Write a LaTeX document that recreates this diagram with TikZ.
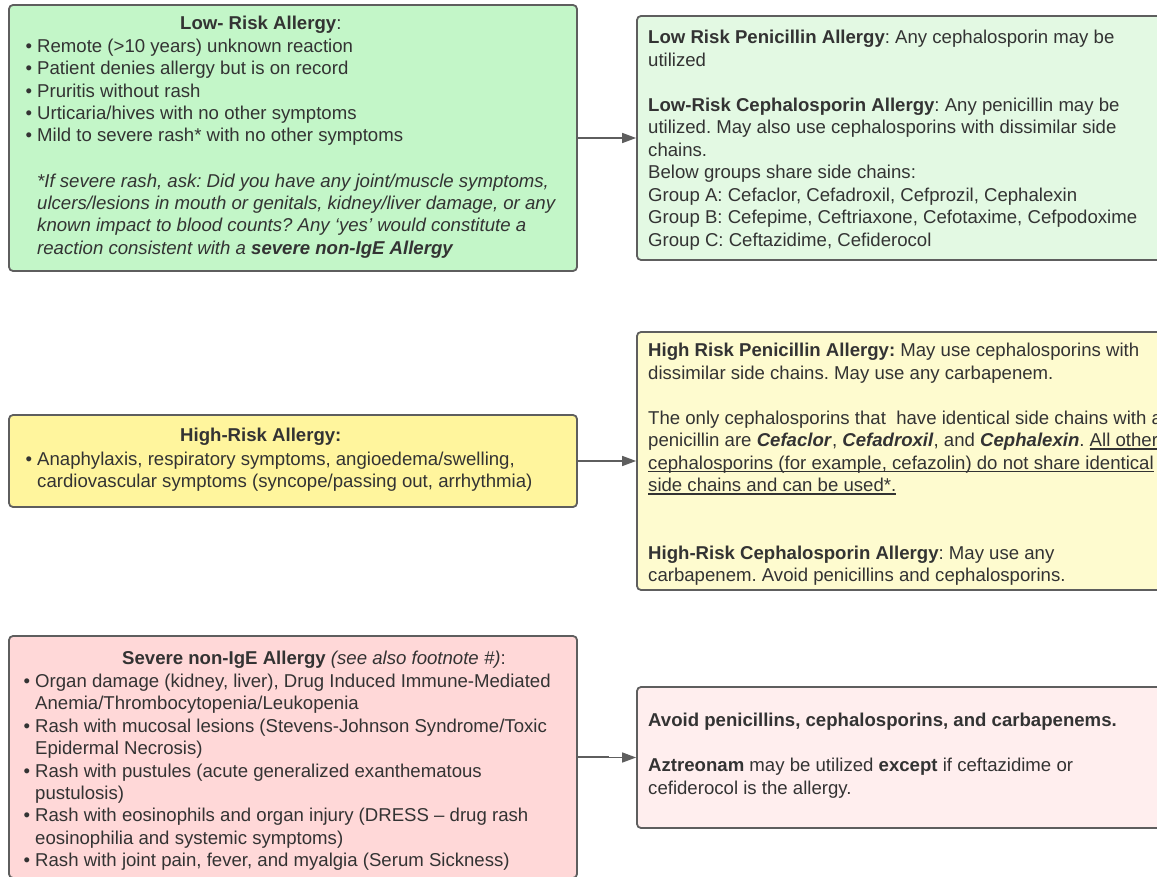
\documentclass[tikz,border=0pt]{standalone}
\usepackage{fontspec}
\setmainfont{Liberation Sans}
\usetikzlibrary{arrows.meta}
\definecolor{textc}{HTML}{333333}
\definecolor{linec}{HTML}{5E5E5E}
\definecolor{gA}{HTML}{C3F6C8}
\definecolor{gB}{HTML}{E3F9E3}
\definecolor{yA}{HTML}{FFF59D}
\definecolor{yB}{HTML}{FEFBCF}
\definecolor{rA}{HTML}{FFD8D8}
\definecolor{rB}{HTML}{FFEEEE}
\frenchspacing
\newcommand\undl[1]{\setbox0\hbox{#1}\rlap{\color{textc}\rule[-3pt]{\wd0}{1.1pt}}\box0}
\newcommand\txtline[4]{\node[txt] (#1) at (#2,#3) {#4};}
\begin{document}
\begin{tikzpicture}[x=1pt,y=-1pt,
  box/.style={draw=linec, line width=1.8pt, rounded corners=4pt, inner sep=0pt},
  txt/.style={inner sep=0pt, anchor=base west, text=textc,
    font=\fontsize{18.6}{22.4}\selectfont\frenchspacing},
  conn/.style={draw=linec, line width=1.5pt, -{Triangle[length=14pt,width=10pt]}}]
\useasboundingbox (0,0) rectangle (1157,877);
\clip (0,0) rectangle (1157,877);
\fill[white] (0,0) rectangle (1157,877);
% boxes
\node[box, fill=gA, minimum width=568pt, minimum height=266pt] (b1) at (293,138) {};
\node[box, fill=gB, minimum width=533pt, minimum height=244pt] (b2) at (903.5,138) {};
\node[box, fill=yA, minimum width=568pt, minimum height=92pt] (b3) at (293,461) {};
\node[box, fill=yB, minimum width=533pt, minimum height=258pt] (b4) at (903.5,461) {};
\node[box, fill=rA, minimum width=568pt, minimum height=242pt] (b5) at (293,757) {};
\node[box, fill=rB, minimum width=533pt, minimum height=141pt] (b6) at (903.5,757.5) {};
% connectors
\draw[conn] (b1.east) -- (b2.west);
\draw[conn] (b3.east) -- (b4.west);
\draw[conn] (b5.east) -- ++(30,0) |- (b6.west);
% box 1
\txtline{a0}{180}{30}{\textbf{Low- Risk Allergy}:}
\txtline{a1}{37}{52.5}{\llap{•\ }Remote (>10 years) unknown reaction}
\txtline{a2}{37}{75}{\llap{•\ }Patient denies allergy but is on record}
\txtline{a3}{37}{97.5}{\llap{•\ }Pruritis without rash}
\txtline{a4}{37}{119.5}{\llap{•\ }Urticaria/hives with no other symptoms}
\txtline{a5}{37}{142}{\llap{•\ }Mild to severe rash* with no other symptoms}
\txtline{a6}{37}{187.5}{\textit{*If severe rash, ask: Did you have any joint/muscle symptoms,}}
\txtline{a7}{37}{210}{\textit{ulcers/lesions in mouth or genitals, kidney/liver damage, or any}}
\txtline{a8}{37}{232}{\textit{known impact to blood counts? Any ‘yes’ would constitute a}}
\txtline{a9}{37}{254.5}{\textit{reaction consistent with a \textbf{severe non-IgE Allergy}}}
% box 2
\txtline{c1}{648}{44}{\textbf{Low Risk Penicillin Allergy}: Any cephalosporin may be}
\txtline{c2}{648}{66.5}{utilized}
\txtline{c3}{648}{111.5}{\textbf{Low-Risk Cephalosporin Allergy}: Any penicillin may be}
\txtline{c4}{648}{134}{utilized. May also use cephalosporins with dissimilar side}
\txtline{c5}{648}{156.5}{chains.}
\txtline{c6}{648}{179}{Below groups share side chains:}
\txtline{c7}{648}{201.5}{Group A: Cefaclor, Cefadroxil, Cefprozil, Cephalexin}
\txtline{c8}{648}{224}{Group B: Cefepime, Ceftriaxone, Cefotaxime, Cefpodoxime}
\txtline{c9}{648}{246.5}{Group C: Ceftazidime, Cefiderocol}
% box 3
\txtline{d0}{180}{441.5}{\textbf{High-Risk Allergy:}}
\txtline{d1}{37}{465}{\llap{•\ }Anaphylaxis, respiratory symptoms, angioedema/swelling,}
\txtline{d2}{37}{487.5}{cardiovascular symptoms (syncope/passing out, arrhythmia)}
% box 4
\txtline{e1}{648}{356.5}{\textbf{High Risk Penicillin Allergy:} May use cephalosporins with}
\txtline{e2}{648}{379}{dissimilar side chains. May use any carbapenem.}
\txtline{e3}{648}{424}{The only cephalosporins that\ \ have identical side chains with a}
\txtline{e4}{648}{446.5}{penicillin are \textbf{\textit{Cefaclor}}, \textbf{\textit{Cefadroxil}}, and \textbf{\textit{Cephalexin}}. \undl{All other}}
\txtline{e5}{648}{469}{\undl{cephalosporins (for example, cefazolin) do not share identical}}
\txtline{e6}{648}{491.5}{\undl{side chains and can be used*.}}
\txtline{e7}{648}{559}{\textbf{High-Risk Cephalosporin Allergy}: May use any}
\txtline{e8}{648}{581.5}{carbapenem. Avoid penicillins and cephalosporins.}
% box 5
\txtline{f0}{122}{664}{\textbf{Severe non-IgE Allergy} \textit{(see also footnote \#)}:}
\txtline{f1}{35}{687.5}{\llap{•\ }Organ damage (kidney, liver), Drug Induced Immune-Mediated}
\txtline{f2}{35}{709.5}{Anemia/Thrombocytopenia/Leukopenia}
\txtline{f3}{35}{732}{\llap{•\ }Rash with mucosal lesions (Stevens-Johnson Syndrome/Toxic}
\txtline{f4}{35}{754.5}{Epidermal Necrosis)}
\txtline{f5}{35}{777}{\llap{•\ }Rash with pustules (acute generalized exanthematous}
\txtline{f6}{35}{799}{pustulosis)}
\txtline{f7}{35}{821.5}{\llap{•\ }Rash with eosinophils and organ injury (DRESS – drug rash}
\txtline{f8}{35}{844}{eosinophilia and systemic symptoms)}
\txtline{f9}{35}{866.5}{\llap{•\ }Rash with joint pain, fever, and myalgia (Serum Sickness)}
% box 6
\txtline{h1}{648}{726.5}{\textbf{Avoid penicillins, cephalosporins, and carbapenems.}}
\txtline{h2}{648}{771.5}{\textbf{Aztreonam} may be utilized \textbf{except} if ceftazidime or}
\txtline{h3}{648}{794}{cefiderocol is the allergy.}
\end{tikzpicture}
\end{document}
